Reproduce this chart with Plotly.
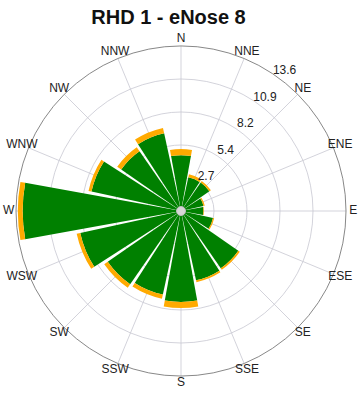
import plotly.graph_objects as go

directions = ["N", "NNE", "NE", "ENE", "E", "ESE", "SE", "SSE",
              "S", "SSW", "SW", "WSW", "W", "WNW", "NW", "NNW"]
direction_deg = [0, 22.5, 45, 67.5, 90, 112.5, 135, 157.5,
                 180, 202.5, 225, 247.5, 270, 292.5, 315, 337.5]
low_speed = [4.6, 2.85, 2.85, 1.9, 1.85, 2.7, 5.75, 5.85,
             7.5, 7.05, 7.35, 8.5, 13.05, 7.55, 6.0, 6.55]
high_speed = [0.5, 0.25, 0.15, 0.1, 0.05, 0.1, 0.15, 0.15,
              0.5, 0.35, 0.35, 0.3, 0.4, 0.25, 0.4, 0.45]
radial_ticks = [2.72, 5.44, 8.16, 10.88, 13.6]
radial_labels = ["2.7", "5.4", "8.2", "10.9", "13.6"]
r_max = 13.6
label_range = 14.5
label_r = 14.2
tick_label_offset = 0.75
tick_label_angle = 36.5

fig = go.Figure()
fig.add_trace(go.Barpolar(r=low_speed, theta=direction_deg, width=20.5,
                          marker=dict(color="rgb(0,128,0)", line=dict(width=0)),
                          name="low"))
fig.add_trace(go.Barpolar(r=high_speed, theta=direction_deg, width=20.5,
                          marker=dict(color="rgb(255,170,0)", line=dict(width=0)),
                          name="high"))
fig.add_trace(go.Scatterpolar(r=[0], theta=[0], mode="markers",
                              marker=dict(size=9, color="rgb(215,215,215)",
                                          line=dict(width=1, color="rgb(190,190,190)")),
                              hoverinfo="skip"))
# direction labels and radial tick labels on an overlaid, larger polar
fig.add_trace(go.Scatterpolar(r=[label_r] * len(directions), theta=direction_deg,
                              mode="text", text=directions, textposition="middle center",
                              textfont=dict(size=12, color="#222"),
                              cliponaxis=False, hoverinfo="skip", subplot="polar2"))
fig.add_trace(go.Scatterpolar(r=[t + tick_label_offset for t in radial_ticks],
                              theta=[tick_label_angle] * len(radial_ticks),
                              mode="text", text=radial_labels, textposition="middle center",
                              textfont=dict(size=12, color="#222"),
                              cliponaxis=False, hoverinfo="skip", subplot="polar2"))

W, H = 364, 395
cx, cy, R = 181, 211, 165
R2 = R * label_range / r_max
grid = "rgba(200,200,210,0.8)"
fig.update_layout(
    width=W, height=H,
    margin=dict(l=0, r=0, t=0, b=0),
    paper_bgcolor="white",
    showlegend=False,
    barmode="stack",
    font=dict(family="Liberation Sans, Arial", size=12, color="#222"),
    title=dict(text="<b>RHD 1 - eNose 8</b>", x=168.5 / W, xanchor="center",
               y=1 - 17 / H, yanchor="middle",
               font=dict(size=20, color="#111")),
    polar=dict(
        domain=dict(x=[(cx - R) / W, (cx + R) / W],
                    y=[(H - cy - R) / H, (H - cy + R) / H]),
        bgcolor="white",
        radialaxis=dict(range=[0, r_max], tickvals=radial_ticks,
                        showticklabels=False, showline=False, ticks="",
                        gridcolor=grid, gridwidth=1),
        angularaxis=dict(rotation=90, direction="clockwise",
                         tickvals=direction_deg,
                         showline=True, linecolor="#888", linewidth=1,
                         gridcolor=grid, gridwidth=1,
                         ticks="", showticklabels=False),
    ),
    polar2=dict(
        domain=dict(x=[max(0, (cx - R2) / W), min(1, (cx + R2) / W)],
                    y=[max(0, (H - cy - R2) / H), min(1, (H - cy + R2) / H)]),
        bgcolor="rgba(0,0,0,0)",
        radialaxis=dict(range=[0, label_range], visible=False, showgrid=False),
        angularaxis=dict(rotation=90, direction="clockwise", visible=False,
                         showgrid=False, showline=False),
    ),
)
fig.write_html("out.html", config={"displayModeBar": False},
               post_script="document.body.style.margin='0';")
